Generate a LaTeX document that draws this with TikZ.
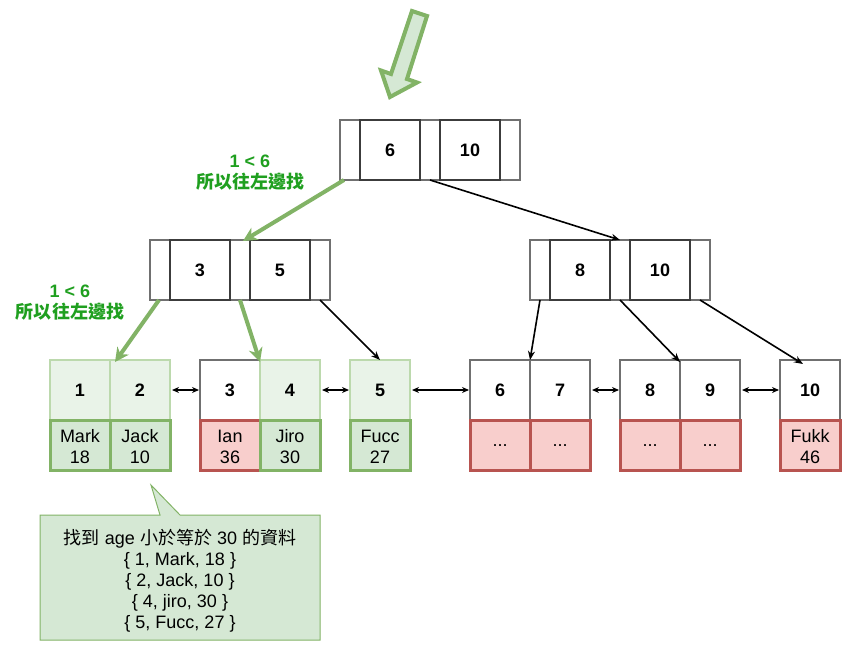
\documentclass[tikz,border=0pt]{standalone}
\usepackage{fontspec}
\setmainfont{Liberation Sans}
\newfontfamily\cjk{Noto Sans CJK TC}
\usetikzlibrary{arrows.meta}
\definecolor{gfill}{HTML}{D5E8D4}
\definecolor{gline}{HTML}{82B366}
\definecolor{rfill}{HTML}{F8CECC}
\definecolor{rline}{HTML}{B85450}
\definecolor{lgfill}{HTML}{E9F3E8}
\definecolor{lgline}{HTML}{BCD9AD}
\definecolor{sk}{HTML}{707070}
\definecolor{skd}{HTML}{3C3C3C}
\definecolor{lbl}{HTML}{1F9F1F}
\begin{document}
\begin{tikzpicture}[x=1pt,y=-1pt,
 cell/.style={draw=sk,line width=1.2pt,fill=white,minimum width=60pt,minimum height=60pt,inner sep=0pt,outer sep=0pt,font=\fontsize{18}{21}\selectfont\bfseries},
 gcell/.style={cell,draw=lgline,fill=lgfill},
 ibox/.style={cell,draw=skd},
 obox/.style={draw=sk,line width=1.2pt,fill=white,minimum width=180pt,minimum height=60pt,inner sep=0pt,outer sep=0pt},
 datacell/.style={line width=3pt,minimum width=60pt,minimum height=50pt,inner sep=0pt,outer sep=0pt},
 dtext/.style={align=center,inner sep=0pt,font=\fontsize{18}{21}\selectfont},
 gdata/.style={datacell,draw=gline,fill=gfill},
 rdata/.style={datacell,draw=rline,fill=rfill},
 llink/.style={{Stealth[length=7pt,width=6pt]}-{Stealth[length=7pt,width=6pt]},line width=1.2pt,shorten <=2pt,shorten >=1pt},
 blk/.style={-{Stealth[length=9pt,width=7pt]},line width=1.6pt},
 gedge/.style={-{Stealth[length=14pt,width=14pt]},line width=4pt,draw=gline},
 lab/.style={text=lbl,align=center,font=\fontsize{18}{21}\selectfont\bfseries}
]
\useasboundingbox (0,0) rectangle (861,661);

% entry arrow
\draw[line width=4pt,draw=gline,fill=gfill,line join=miter]
 (412,11) -- (391,74) -- (381,70.5) -- (390,97) -- (417,82.5) -- (407,79) -- (427,16) -- cycle;

% root
\node[obox] (root) at (430,150) {};
\node[ibox] (r6) at (390,150) {6};
\node[ibox] (r10) at (470,150) {10};

% level 2
\node[obox] (L) at (240,270) {};
\node[ibox] (l3) at (200,270) {3};
\node[ibox] (l5) at (280,270) {5};
\node[obox] (R) at (620,270) {};
\node[ibox] (r8) at (580,270) {8};
\node[ibox] (r10b) at (660,270) {10};

% leaves keys
\node[gcell] (k1) at (80,390) {1};
\node[gcell] (k2) at (140,390) {2};
\node[cell] (k3) at (230,390) {3};
\node[gcell] (k4) at (290,390) {4};
\node[gcell] (k5) at (380,390) {5};
\node[cell] (k6) at (500,390) {6};
\node[cell] (k7) at (560,390) {7};
\node[cell] (k8) at (650,390) {8};
\node[cell] (k9) at (710,390) {9};
\node[cell] (k10) at (810,390) {10};

% leaves data
\node[gdata] (d1) at (80,445) {};
\node[gdata] (d2) at (140,445) {};
\node[rdata] (d3) at (230,445) {};
\node[gdata] (d4) at (290,445) {};
\node[gdata] (d5) at (380,445) {};
\node[rdata] (d6) at (500,445) {};
\node[rdata] (d7) at (560,445) {};
\node[rdata] (d8) at (650,445) {};
\node[rdata] (d9) at (710,445) {};
\node[rdata] (d10) at (810,445) {};
\node[dtext] (t1) at ([yshift=-2pt]d1.center) {Mark\\18};
\node[dtext] (t2) at ([yshift=-2pt]d2.center) {Jack\\10};
\node[dtext] (t3) at ([yshift=-2pt]d3.center) {Ian\\36};
\node[dtext] (t4) at ([yshift=-2pt]d4.center) {Jiro\\30};
\node[dtext] (t5) at ([yshift=-2pt]d5.center) {Fucc\\27};
\node[dtext] (t6) at ([yshift=-1pt]d6.center) {...};
\node[dtext] (t7) at ([yshift=-1pt]d7.center) {...};
\node[dtext] (t8) at ([yshift=-1pt]d8.center) {...};
\node[dtext] (t9) at ([yshift=-1pt]d9.center) {...};
\node[dtext] (t10) at ([yshift=-2pt]d10.center) {Fukk\\46};

% leaf links
\draw[llink] (k2.east) -- (k3.west);
\draw[llink] (k4.east) -- (k5.west);
\draw[llink] (k5.east) -- (k6.west);
\draw[llink] (k7.east) -- (k8.west);
\draw[llink] (k9.east) -- (k10.west);

% tree edges
\draw[gedge] ([xshift=4pt]root.south west) -- ([xshift=3pt,yshift=-1pt]L.north);
\draw[blk] (root.south) -- (R.north);
\draw[gedge] ([xshift=9pt]L.south west) -- ([xshift=5pt,yshift=-2pt]k2.north west);
\draw[gedge] (L.south) -- ([yshift=-2pt]k3.north east);
\draw[blk] ([xshift=-10pt]L.south east) -- (k5.north);
\draw[blk] ([xshift=10pt]R.south west) -- (k6.north east);
\draw[blk] (R.south) -- ([yshift=-2pt]k8.north east);
\draw[blk] ([xshift=-10pt]R.south east) -- ([xshift=-7pt,yshift=-4pt]k10.north);

% labels
\node[lab] (lab1) at (250,172.5) {1 < 6\\{\cjk\bfseries 所以往左邊找}};
\node[lab] (lab2) at (70,302.5) {1 < 6\\{\cjk\bfseries 所以往左邊找}};

% callout
\draw[draw=gline,fill=gfill,line width=1pt]
 (40,515) -- (160,515) -- (151,485) -- (180,515) -- (320,515) -- (320,640) -- (40,640) -- cycle;
\node[align=center,font=\fontsize{18}{21}\selectfont] (note) at (180,580.5)
 {{\cjk 找到} age {\cjk 小於等於} 30 {\cjk 的資料}\\\{ 1, Mark, 18 \}\\\{ 2, Jack, 10 \}\\\{ 4, jiro, 30 \}\\\{ 5, Fucc, 27 \}};
\end{tikzpicture}
\end{document}
